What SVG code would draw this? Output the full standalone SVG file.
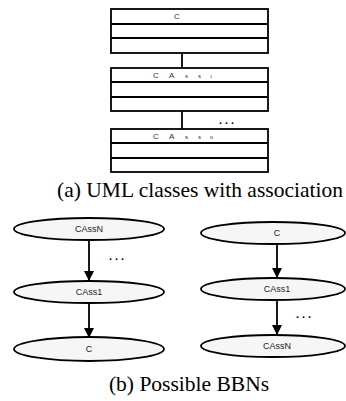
<svg xmlns="http://www.w3.org/2000/svg" width="346" height="401" viewBox="0 0 346 401">
<defs>
<style>
.box{fill:#fff;stroke:#000;stroke-width:1.8}
.ln{stroke:#000;stroke-width:1.8;fill:none}
.el{fill:#f6f6f6;stroke:#000;stroke-width:1.8}
.t{font-family:'Liberation Sans',Arial,sans-serif;fill:#333}
.et{font-family:'Liberation Sans',Arial,sans-serif;font-size:9px;fill:#222;text-anchor:middle}
.cap{font-family:'Liberation Serif','Times New Roman',Times,serif;font-size:21.5px;fill:#000;text-anchor:middle}
.dots{font-family:'Liberation Sans',Arial,sans-serif;font-size:11px;font-weight:bold;letter-spacing:3px;fill:#000}
</style>
<marker id="ah" viewBox="0 0 10 10" refX="10" refY="5" markerWidth="10" markerHeight="10" markerUnits="userSpaceOnUse" orient="auto">
<path d="M0,0 L10,5 L0,10 z" fill="#000"/>
</marker>
</defs>
<g id="connectors">
<line class="ln" x1="182" y1="53" x2="182" y2="68"/>
<line class="ln" x1="182" y1="111" x2="182" y2="129"/>
<line class="ln" x1="89" y1="240" x2="89" y2="281" marker-end="url(#ah)"/>
<line class="ln" x1="89" y1="303" x2="89" y2="338" marker-end="url(#ah)"/>
<line class="ln" x1="277" y1="244" x2="277" y2="278" marker-end="url(#ah)"/>
<line class="ln" x1="277" y1="301" x2="277" y2="335" marker-end="url(#ah)"/>
<text class="dots" x="219" y="124">...</text>
<text class="dots" x="109" y="260">...</text>
<text class="dots" x="296" y="318">...</text>
</g>
<g id="umlC">
<rect class="box" x="111" y="9" width="157" height="44"/>
<line class="ln" x1="111" y1="24" x2="268" y2="24"/>
<line class="ln" x1="111" y1="38" x2="268" y2="38"/>
<text class="t" x="174" y="19" font-size="8">C</text>
</g>
<g id="umlCAss1">
<rect class="box" x="111" y="68" width="157" height="43"/>
<line class="ln" x1="111" y1="82" x2="268" y2="82"/>
<line class="ln" x1="111" y1="97" x2="268" y2="97"/>
<text class="t" x="153" y="78" font-size="8">C<tspan x="169">A</tspan><tspan x="185" font-size="6">s</tspan><tspan x="198" font-size="6">s</tspan><tspan x="210" font-size="4">1</tspan></text>
</g>
<g id="umlCAssN">
<rect class="box" x="111" y="129" width="157" height="43"/>
<line class="ln" x1="111" y1="143" x2="268" y2="143"/>
<line class="ln" x1="111" y1="158" x2="268" y2="158"/>
<text class="t" x="153" y="139" font-size="8">C<tspan x="169">A</tspan><tspan x="185" font-size="6">s</tspan><tspan x="198" font-size="6">s</tspan><tspan x="210" font-size="4">N</tspan></text>
</g>
<text class="cap" x="200" y="197">(a) UML classes with association</text>
<g id="L_CAssN">
<ellipse class="el" cx="89" cy="229" rx="75" ry="11"/>
<text class="et" x="89" y="232">CAssN</text>
</g>
<g id="L_CAss1">
<ellipse class="el" cx="89" cy="292" rx="75" ry="11"/>
<text class="et" x="89" y="295">CAss1</text>
</g>
<g id="L_C">
<ellipse class="el" cx="89" cy="349" rx="75" ry="12"/>
<text class="et" x="89" y="352">C</text>
</g>
<g id="R_C">
<ellipse class="el" cx="273" cy="233" rx="72" ry="11"/>
<text class="et" x="277" y="236">C</text>
</g>
<g id="R_CAss1">
<ellipse class="el" cx="273" cy="289" rx="72" ry="11"/>
<text class="et" x="277" y="292">CAss1</text>
</g>
<g id="R_CAssN">
<ellipse class="el" cx="273" cy="346" rx="72" ry="11"/>
<text class="et" x="277" y="349">CAssN</text>
</g>
<text class="cap" x="189" y="391">(b) Possible BBNs</text>
</svg>
